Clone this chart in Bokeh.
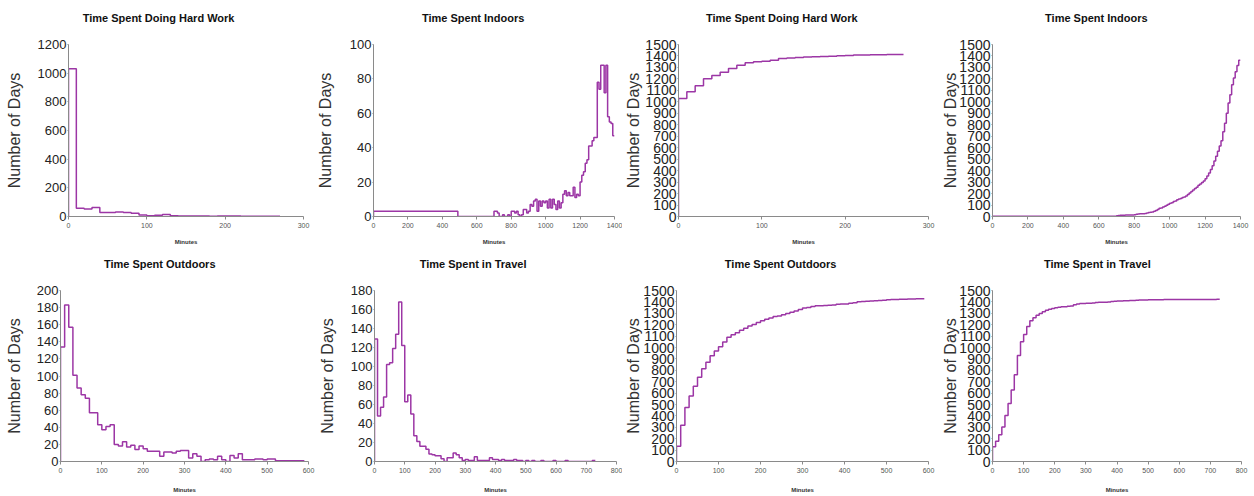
import numpy as np
from bokeh.plotting import figure
from bokeh.layouts import column, row
from bokeh.models import Range1d, FixedTicker, LinearAxis
from bokeh.embed import file_html
from bokeh.resources import INLINE

# ---------------- data (10-minute bins, counts) ----------------
hard_work_edges = list(range(0, 280, 10))
hard_work_counts = [1030, 58, 52, 62, 28, 28, 32, 28, 22, 10, 5, 8, 14, 5, 4, 4, 3, 3, 1,
                    4, 4, 3, 1, 1, 1, 1, 1]

indoors_edges = [0, 490] + list(range(700, 1410, 10))
indoors_counts = [3, 0,
                  3, 3, 2, 0, 0, 1, 0, 0, 1, 0,
                  3, 3, 2, 3, 1, 0, 1, 4, 4, 2,
                  3, 7, 6, 9, 10, 3, 9, 6, 9, 8,
                  9, 5, 10, 5, 10, 7, 4, 9, 5, 8,
                  13, 15, 12, 14, 12, 12, 17, 11, 13, 12,
                  20, 24, 26, 31, 33, 41, 41, 44, 46, 46,
                  78, 74, 88, 88, 72, 88, 58, 55, 54, 47]

outdoors_edges = list(range(0, 600, 10))
outdoors_counts = [134, 183, 157, 101, 86, 78, 74, 57, 57, 43,
                   37, 41, 43, 20, 18, 23, 17, 19, 14, 18,
                   15, 12, 12, 12, 6, 11, 11, 10, 12, 13,
                   13, 4, 9, 6, 0, 2, 3, 2, 6, 2,
                   0, 7, 4, 9, 2, 2, 2, 3, 3, 2,
                   3, 3, 1, 1, 1, 1, 1, 1, 1]

travel_edges = list(range(0, 740, 10))
travel_counts = [129, 48, 57, 68, 102, 104, 119, 134, 168, 122,
                 63, 70, 50, 27, 21, 16, 16, 13, 8, 7,
                 6, 6, 3, 0, 4, 4, 9, 7, 4, 1,
                 2, 1, 1, 5, 1, 1, 1, 1, 4, 2,
                 2, 1, 2, 1, 1, 1, 2, 1, 1, 0,
                 1, 0, 1, 0, 0, 1, 0, 0, 0, 1,
                 0, 0, 0, 1, 0, 0, 0, 0, 0, 0,
                 0, 0, 1]

titles = ["Time Spent Doing Hard Work", "Time Spent Indoors",
          "Time Spent Outdoors", "Time Spent in Travel"]
x_label = "Minutes"
y_label = "Number of Days"

LINE = "#9c36a5"
AXIS = "#8a8a8a"
FONT = "Liberation Sans"


def make_panel(title, edges, counts, cumulative, xmax, xstep, ymax, ystep,
               ml, fw, mr, mt, fh, mb, title_dx, ylab_standoff,
               ytick_size, xlab_standoff):
    p = figure(width=ml + fw + mr, height=mt + fh + mb,
               min_border_left=ml, min_border_right=mr,
               min_border_top=mt, min_border_bottom=mb,
               x_range=Range1d(0, xmax), y_range=Range1d(0, ymax),
               output_backend="svg", toolbar_location=None, tools="")
    p.outline_line_color = None
    p.grid.visible = False
    p.background_fill_color = "white"
    p.border_fill_color = "white"

    vals = np.cumsum(counts) if cumulative else np.asarray(counts, dtype=float)
    xs = [edges[0]] + list(edges)
    ys = [0] + list(vals) + [vals[-1]]
    p.step(xs, ys, mode="after", line_color=LINE, line_width=1.5)

    xa = p.xaxis[0]
    ya = p.yaxis[0]
    for ax in (xa, ya):
        ax.minor_tick_line_color = None
        ax.axis_line_color = AXIS
        ax.major_tick_line_color = AXIS
        ax.major_tick_in = 0

    xa.ticker = FixedTicker(ticks=list(range(0, xmax + 1, xstep)))
    xa.major_tick_out = 3
    xa.major_label_standoff = 3
    xa.major_label_text_font = FONT
    xa.major_label_text_font_size = "7px"
    xa.major_label_text_color = "#555555"
    xa.axis_label = x_label
    xa.axis_label_text_font = FONT
    xa.axis_label_text_font_style = "bold"
    xa.axis_label_text_font_size = "6px"
    xa.axis_label_text_color = "#333333"
    xa.axis_label_standoff = xlab_standoff

    ya.ticker = FixedTicker(ticks=list(range(0, ymax + 1, ystep)))
    ya.major_tick_out = 1
    ya.major_label_standoff = 1
    ya.major_label_text_font = FONT
    ya.major_label_text_font_size = ytick_size
    ya.major_label_text_color = "#222222"
    ya.axis_label = y_label
    ya.axis_label_text_font = FONT
    ya.axis_label_text_font_style = "normal"
    ya.axis_label_text_font_size = "16px"
    ya.axis_label_text_color = "#333333"
    ya.axis_label_standoff = ylab_standoff

    # title drawn as the single tick label of an invisible axis above the frame
    tx = round(xmax * title_dx / fw)
    ta = LinearAxis(ticker=FixedTicker(ticks=[tx]),
                    major_label_overrides={tx: title},
                    axis_line_color=None, major_tick_line_color=None,
                    minor_tick_line_color=None, major_tick_out=0, major_tick_in=0,
                    major_label_standoff=21,
                    major_label_text_font=FONT, major_label_text_font_style="bold",
                    major_label_text_font_size="11px", major_label_text_color="#111111")
    p.add_layout(ta, "above")
    return p


TOP = dict(mt=44, fh=172, mb=34, xlab_standoff=8)
BOT = dict(mt=40, fh=172, mb=33, xlab_standoff=11)

p1 = make_panel(titles[0], hard_work_edges, hard_work_counts, False, 300, 100, 1200, 200,
                ml=68, fw=235, mr=10, title_dx=90, ylab_standoff=12, ytick_size="13px", **TOP)
p2 = make_panel(titles[1], indoors_edges, indoors_counts, False, 1400, 200, 100, 20,
                ml=59, fw=242, mr=8, title_dx=100, ylab_standoff=13, ytick_size="13px", **TOP)
p3 = make_panel(titles[0], hard_work_edges, hard_work_counts, True, 300, 100, 1500, 100,
                ml=54, fw=252, mr=11, title_dx=104, ylab_standoff=0, ytick_size="14px", **TOP)
p4 = make_panel(titles[1], indoors_edges, indoors_counts, True, 1400, 200, 1500, 100,
                ml=50, fw=251, mr=12, title_dx=105, ylab_standoff=-3, ytick_size="14px", **TOP)

p5 = make_panel(titles[2], outdoors_edges, outdoors_counts, False, 600, 100, 200, 20,
                ml=60, fw=248, mr=7, title_dx=99, ylab_standoff=11, ytick_size="13px", **BOT)
p6 = make_panel(titles[3], travel_edges, travel_counts, False, 800, 100, 180, 20,
                ml=58, fw=243, mr=6, title_dx=99, ylab_standoff=12, ytick_size="13px", **BOT)
p7 = make_panel(titles[2], outdoors_edges, outdoors_counts, True, 600, 100, 1500, 100,
                ml=54, fw=252, mr=11, title_dx=104, ylab_standoff=-2, ytick_size="14px", **BOT)
p8 = make_panel(titles[3], travel_edges, travel_counts, True, 800, 100, 1500, 100,
                ml=50, fw=252, mr=11, title_dx=106, ylab_standoff=-3, ytick_size="14px", **BOT)

layout = column(row(p1, p2, p3, p4), row(p5, p6, p7, p8))
open("out.html", "w").write(file_html(layout, INLINE))
